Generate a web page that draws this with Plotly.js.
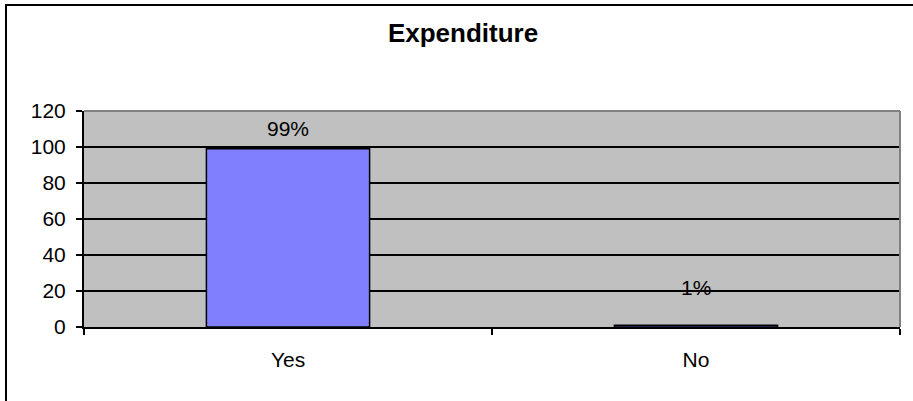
<!DOCTYPE html>
<html>
<head>
<meta charset="utf-8">
<script src="https://cdn.plot.ly/plotly-3.0.1.min.js"></script>
<style>
  html, body { margin: 0; padding: 0; background: #fff; }
  #wrap { position: relative; width: 913px; height: 401px; overflow: hidden; }
  #chart { position: absolute; left: 0; top: 0; width: 913px; height: 401px; }
  #frame { position: absolute; left: 5px; top: 4px; width: 1000px; height: 500px;
           border-left: 2px solid #000; border-top: 2px solid #000; pointer-events: none; }
</style>
</head>
<body>
<div id="wrap">
  <div id="chart"></div>
  <div id="frame"></div>
</div>
<script>
const categories = ["Yes", "No"];
const values = [99, 1];
const labels = ["99%", "1%"];
const yTicks = [0, 20, 40, 60, 80, 100, 120];
const chartTitle = "Expenditure";

const labelShift = [20, 38];
const font = "Liberation Sans, Arial, sans-serif";

const trace = {
  type: "bar",
  x: categories,
  y: values,
  marker: { color: "#8080ff", line: { color: "#000", width: 1.5 } },
  width: 0.4,
  hoverinfo: "none"
};

const annotations = categories.map((c, i) => ({
  x: c, y: values[i], xref: "x", yref: "y",
  text: labels[i], showarrow: false,
  yanchor: "middle", yshift: labelShift[i],
  font: { family: font, size: 21, color: "#000" }
}));

const layout = {
  width: 913, height: 401,
  margin: { l: 84, r: 13, t: 111, b: 74, pad: 0 },
  paper_bgcolor: "rgba(0,0,0,0)",
  plot_bgcolor: "#c0c0c0",
  showlegend: false,
  title: {
    text: "<b>" + chartTitle + "</b>",
    font: { family: font, size: 26, color: "#000" },
    x: 463 / 913, xanchor: "center",
    y: 1 - 33 / 401, yanchor: "middle",
    xref: "container", yref: "container"
  },
  xaxis: {
    type: "category",
    range: [-0.5, 1.5],
    showgrid: false,
    showline: true, linecolor: "#000", linewidth: 2,
    ticks: "outside", ticklen: 6, tickcolor: "#000", tickwidth: 2,
    tickson: "boundaries",
    ticklabelstandoff: 13,
    tickfont: { family: font, size: 21, color: "#000" },
    zeroline: false, fixedrange: true
  },
  yaxis: {
    range: [0, 120],
    tickvals: yTicks,
    ticktext: yTicks.map(String),
    showgrid: true, gridcolor: "#000", gridwidth: 2,
    showline: true, linecolor: "#000", linewidth: 2,
    ticks: "outside", ticklen: 6, tickcolor: "#000", tickwidth: 2,
    ticklabelstandoff: 6,
    tickfont: { family: font, size: 21, color: "#000" },
    zeroline: false, fixedrange: true
  },
  annotations: annotations,
  shapes: [
    { type: "line", xref: "paper", yref: "paper", x0: 0, x1: 1, y0: 1, y1: 1,
      line: { color: "#808080", width: 2 }, layer: "above" },
    { type: "line", xref: "paper", yref: "paper", x0: 1, x1: 1, y0: 0, y1: 1,
      line: { color: "#808080", width: 2 }, layer: "above" }
  ]
};

Plotly.newPlot("chart", [trace], layout, { staticPlot: true, displayModeBar: false });
</script>
</body>
</html>
